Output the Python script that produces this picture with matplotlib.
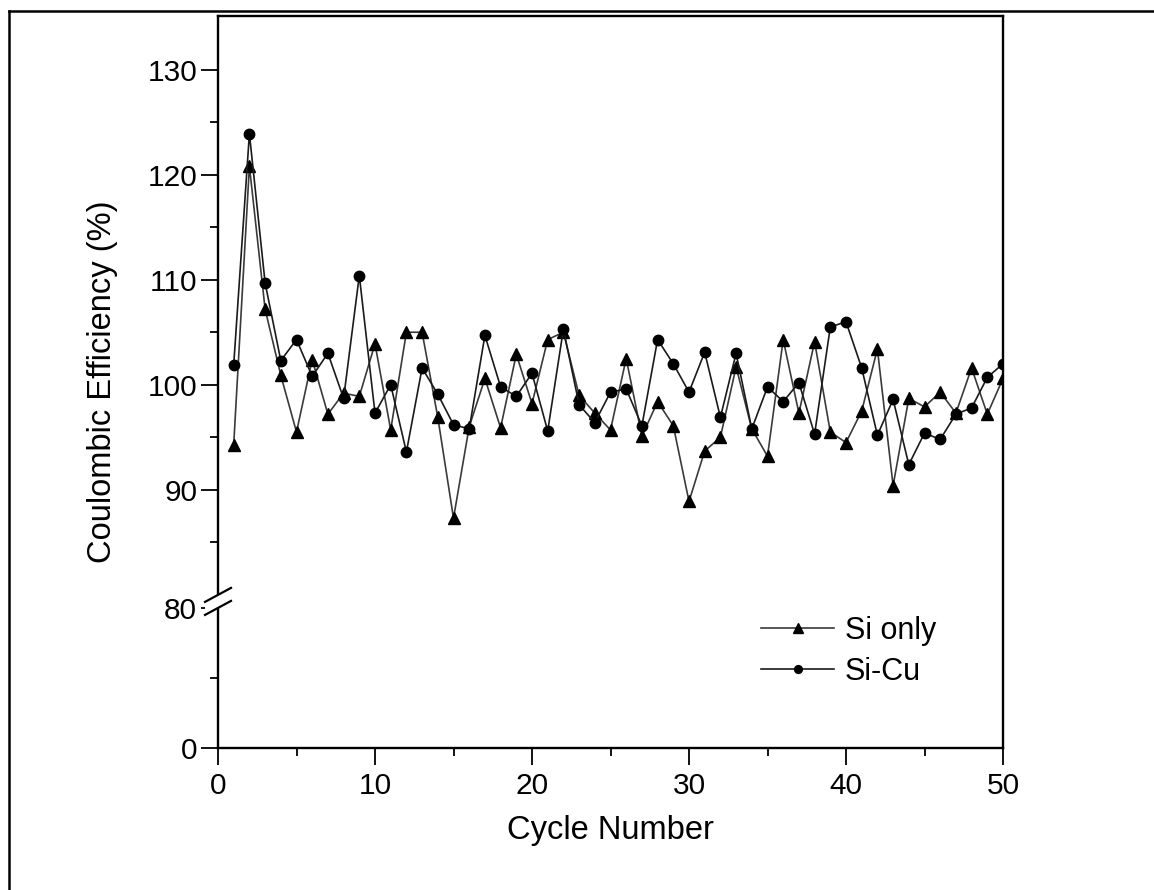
import matplotlib
matplotlib.use("Agg")
import matplotlib.pyplot as plt
import numpy as np
from matplotlib.lines import Line2D
from matplotlib.patches import Polygon
from matplotlib.ticker import FixedLocator

plt.rcParams['font.family'] = ['Liberation Sans', 'DejaVu Sans']

# Cycle number
cycles = np.arange(1, 51)

# Coulombic efficiency (%)
si_only = np.array([94.3, 120.8, 107.2, 100.9, 95.5, 102.4, 97.2, 99.2, 98.9, 103.9,
                    95.7, 105.0, 105.0, 96.9, 87.3, 96.0, 100.6, 95.9, 102.9, 98.2,
                    104.3, 105.0, 99.0, 97.3, 95.7, 102.5, 95.1, 98.4, 96.1, 88.9,
                    93.7, 95.0, 101.7, 95.8, 93.2, 104.3, 97.3, 104.1, 95.5, 94.5,
                    97.5, 103.4, 90.4, 98.7, 97.9, 99.3, 97.3, 101.6, 97.2, 100.6])
si_cu = np.array([101.9, 123.9, 109.7, 102.3, 104.3, 100.8, 103.0, 98.7, 110.4, 97.3,
                  100.0, 93.6, 101.6, 99.1, 96.2, 95.8, 104.7, 99.8, 98.9, 101.1,
                  95.6, 105.3, 98.1, 96.4, 99.3, 99.6, 96.1, 104.3, 102.0, 99.3,
                  103.1, 96.9, 103.0, 95.8, 99.8, 98.4, 100.2, 95.3, 105.5, 106.0,
                  101.6, 95.2, 98.6, 92.4, 95.4, 94.8, 97.2, 97.8, 100.7, 102.0])

y_major = [0, 80, 90, 100, 110, 120, 130]
y_minor = [40, 85, 95, 105, 115, 125]

# broken y axis: 0-80 squeezed below the break, 80-135 stretched above
def fwd(y):
    y = np.asarray(y, dtype=float)
    return np.where(y <= 80, y * 140 / 80, 153 + (y - 80) * 10.5)

def inv(f):
    f = np.asarray(f, dtype=float)
    return np.where(f <= 146.5, f * 80 / 140, 80 + (f - 153) / 10.5)

W, H = 1154, 890
fig = plt.figure(figsize=(W / 100, H / 100), dpi=100)
ax = fig.add_axes([218 / W, 142 / H, 785 / W, 732 / H])
ax.set_yscale('function', functions=(fwd, inv))

ax.plot(cycles, si_only, color='#3a3a3a', lw=1.2, marker='^', ms=9,
        mfc='black', mec='black', label='Si only')
ax.plot(cycles, si_cu, color='#1a1a1a', lw=1.2, marker='o', ms=7.5,
        mfc='black', mec='black', label='Si-Cu')

ax.set_xlim(0, 50)
ax.set_ylim(0, 135.1)
ax.set_xticks([0, 10, 20, 30, 40, 50])
ax.xaxis.set_minor_locator(FixedLocator([5, 15, 25, 35, 45]))
ax.yaxis.set_major_locator(FixedLocator(y_major))
ax.yaxis.set_minor_locator(FixedLocator(y_minor))
ax.set_yticklabels([str(v) for v in y_major])

for s in ax.spines.values():
    s.set_linewidth(1.7)
ax.tick_params(which='major', direction='out', length=12, width=1.3,
               labelsize=21.5, pad=5)
ax.tick_params(axis='y', which='major', pad=3)
ax.tick_params(which='minor', direction='out', length=6, width=1.3)

ax.set_xlabel('Cycle Number', fontsize=23.5)
ax.set_ylabel('Coulombic Efficiency (%)', fontsize=23.5)
ax.xaxis.set_label_coords(0.5, (748 - 830) / 732)
ax.xaxis.label.set_va('center')
ax.yaxis.set_label_coords((103 - 218) / 785, 0.5)
ax.yaxis.label.set_va('center')

leg = ax.legend(loc='center left', bbox_to_anchor=((761 - 218) / 785, 0.132),
                frameon=False, fontsize=22, handlelength=2.4, handletextpad=0.35,
                labelspacing=0.38, borderpad=0, borderaxespad=0, markerscale=0.75)

# break marks on the left spine
x0, yup = ax.transData.transform((0, 80.001))
_, ylo = ax.transData.transform((0, 79.999))
to_fig = fig.transFigure.inverted()
gap = Polygon(to_fig.transform([(x0 - 13, yup - 7), (x0 + 13, yup + 7),
                                (x0 + 13, ylo + 7), (x0 - 13, ylo - 7)]),
              closed=True, transform=fig.transFigure, facecolor='white',
              edgecolor='none', zorder=5)
fig.add_artist(gap)
for yc in (yup, ylo):
    p = to_fig.transform([(x0 - 13, yc - 7), (x0 + 13, yc + 7)])
    fig.add_artist(Line2D(p[:, 0], p[:, 1], color='black', lw=1.6, zorder=6))

# outer frame of the original picture
fig.add_artist(Line2D([9 / W, 1], [1 - 11 / H, 1 - 11 / H], color='black', lw=1.8))
fig.add_artist(Line2D([9 / W, 9 / W], [0, 1 - 11 / H], color='black', lw=1.8))

fig.savefig('out.png', dpi=100)
